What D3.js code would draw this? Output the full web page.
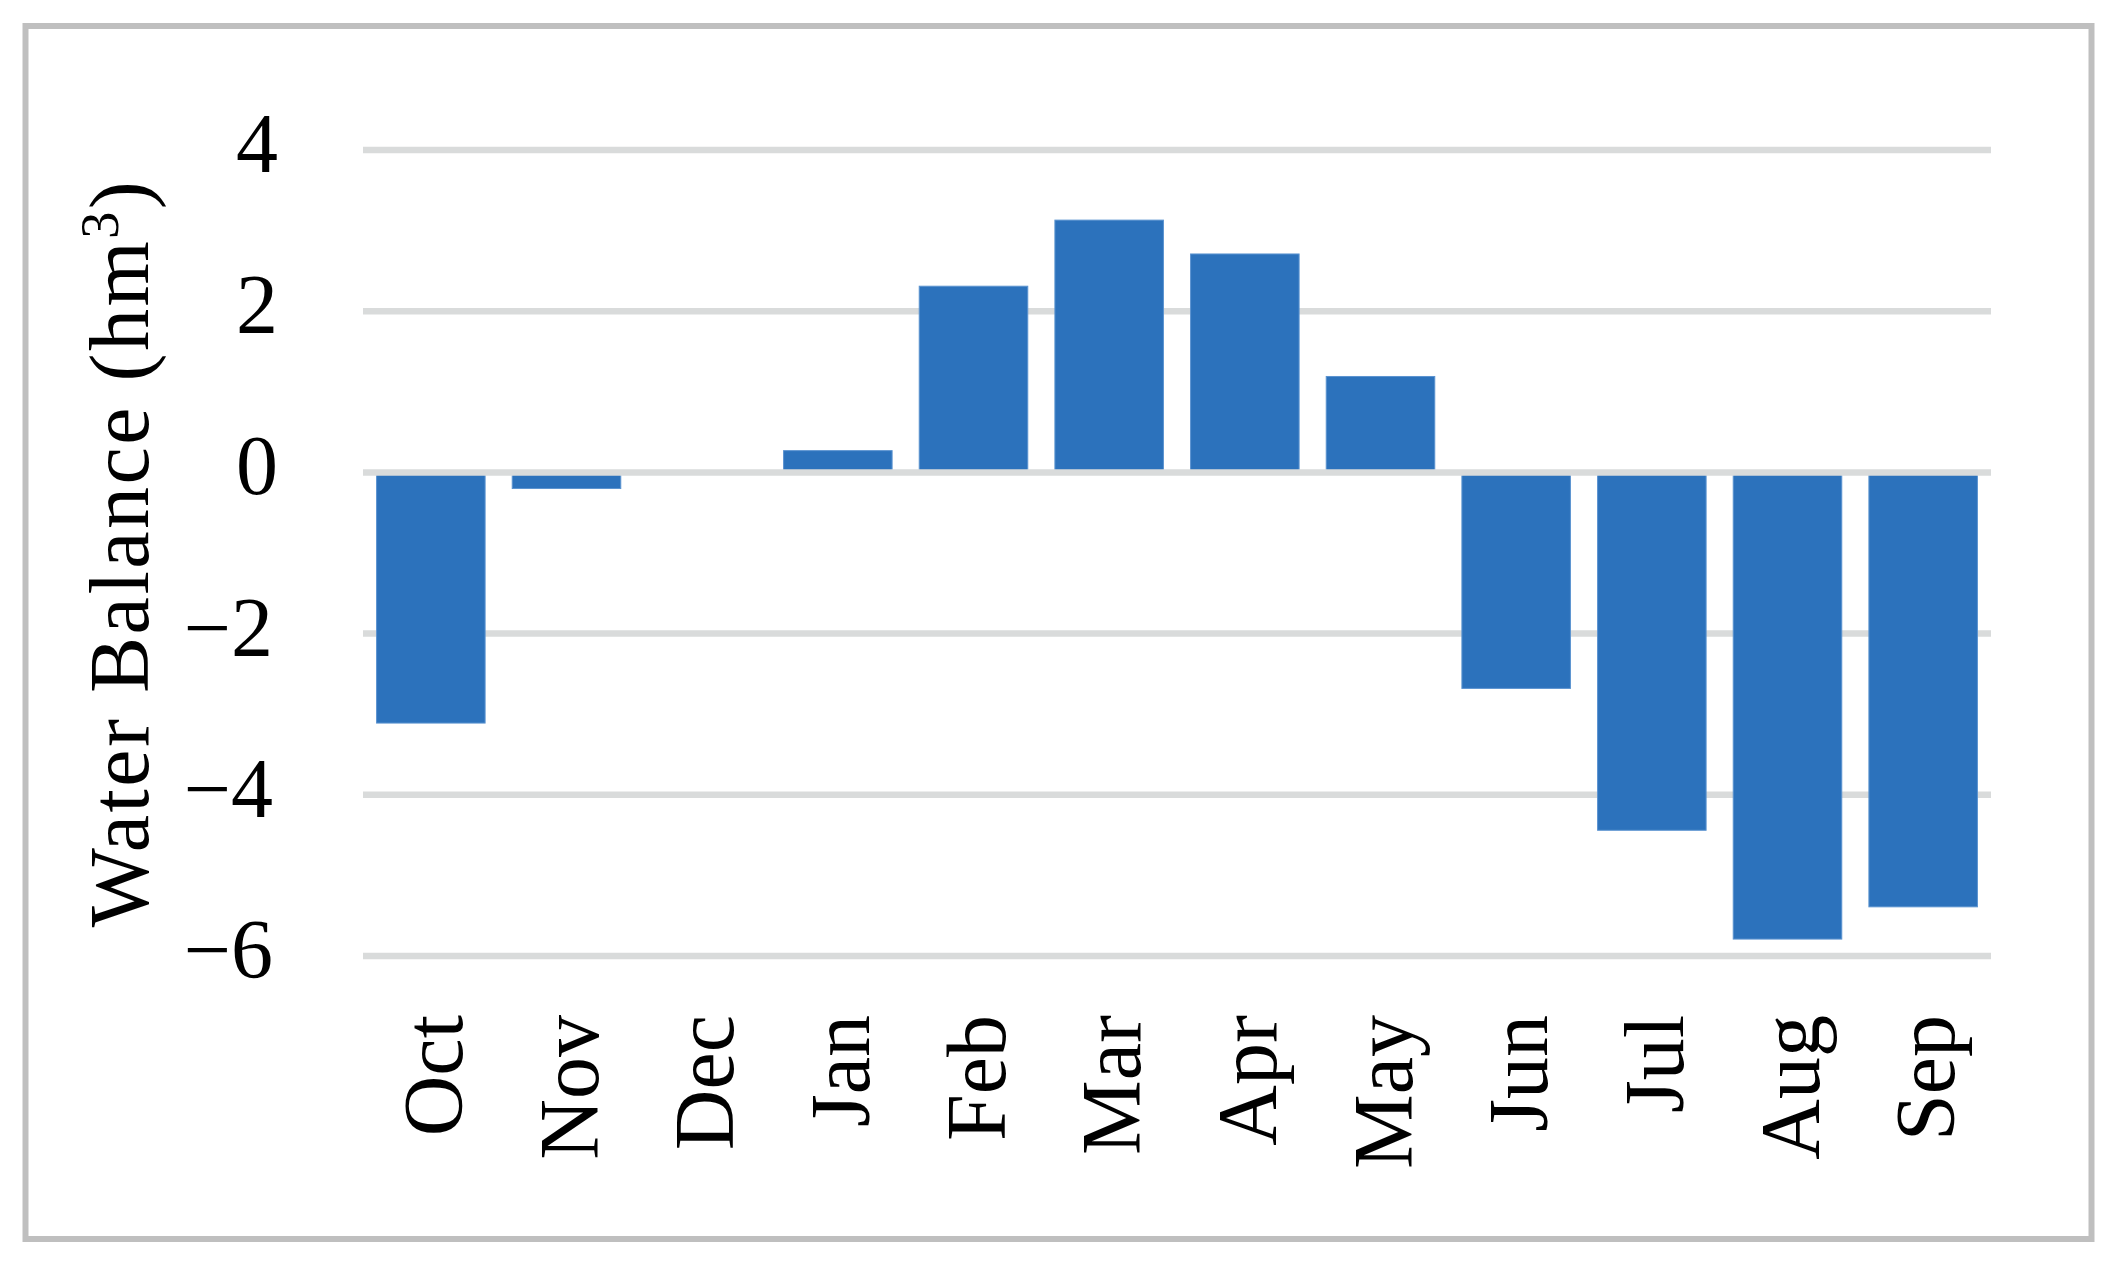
<!DOCTYPE html>
<html>
<head>
<meta charset="utf-8">
<script src="https://cdn.jsdelivr.net/npm/d3@7"></script>
<style>
  html, body { margin: 0; padding: 0; background: #ffffff; }
  svg { display: block; }
  text { font-family: "Liberation Serif", "DejaVu Serif", serif; fill: #000; }
</style>
</head>
<body>
<svg id="chart" width="2115" height="1264"></svg>
<script>
const months = ["Oct", "Nov", "Dec", "Jan", "Feb", "Mar", "Apr", "May", "Jun", "Jul", "Aug", "Sep"];
const balance = [-3.11, -0.2, 0, 0.27, 2.31, 3.13, 2.71, 1.19, -2.68, -4.44, -5.79, -5.39];
const yTicks = [4, 2, 0, -2, -4, -6];
const yTickLabels = ["4", "2", "0", "\u22122", "\u22124", "\u22126"];
const yTitle = "Water Balance (hm";
const yTitleSup = "3";

const svg = d3.select("#chart");
const W = 2115, H = 1264;
svg.append("rect").attr("width", W).attr("height", H).attr("fill", "#fff");

// outer frame
svg.append("rect")
  .attr("x", 25.5).attr("y", 26)
  .attr("width", 2091.5 - 25.5).attr("height", 1239 - 26)
  .attr("fill", "none").attr("stroke", "#bfbfbf").attr("stroke-width", 6);

const plot = { left: 363, right: 1991, top: 150, bottom: 956 };

const x = d3.scaleBand().domain(months)
  .range([plot.left, plot.right])
  .paddingInner(0.2).paddingOuter(0.1);
const y = d3.scaleLinear().domain([-6, 4]).range([plot.bottom, plot.top]);

// gridlines
const grid = svg.append("g");
grid.selectAll("line").data(yTicks.filter(d => d !== 0)).join("line")
  .attr("x1", plot.left).attr("x2", plot.right)
  .attr("y1", d => y(d)).attr("y2", d => y(d))
  .attr("stroke", "#d9dbdb").attr("stroke-width", 6.5);

// bars
svg.append("g").selectAll("rect").data(months.map((m, i) => ({ m, v: balance[i] })).filter(d => d.v !== 0)).join("rect")
  .attr("x", d => x(d.m))
  .attr("width", x.bandwidth())
  .attr("y", d => y(Math.max(0, d.v)))
  .attr("height", d => Math.abs(y(d.v) - y(0)))
  .attr("fill", "#2c72bc")
  .attr("stroke", "#5b93d0").attr("stroke-width", 1);

// zero line on top
svg.append("line")
  .attr("x1", plot.left).attr("x2", plot.right)
  .attr("y1", y(0)).attr("y2", y(0))
  .attr("stroke", "#d9dbdb").attr("stroke-width", 6.5);

// y tick labels
svg.append("g").selectAll("text").data(yTicks).join("text")
  .attr("x", d => d < 0 ? 273 : 278)
  .attr("y", d => y(d) + 22)
  .attr("text-anchor", "end")
  .attr("font-size", 84)
  .text((d, i) => yTickLabels[i]);

// x tick labels (rotated)
svg.append("g").selectAll("text").data(months).join("text")
  .attr("transform", d => `translate(${x(d) + x.bandwidth() / 2},1015) rotate(-90)`)
  .attr("x", 0).attr("y", 31)
  .attr("text-anchor", "end")
  .attr("font-size", 84)
  .text(d => d);

// y axis title
const t = svg.append("text")
  .attr("transform", `translate(148,${(plot.top + plot.bottom) / 2}) rotate(-90)`)
  .attr("text-anchor", "middle")
  .attr("font-size", 84)
  .attr("letter-spacing", 2.5);
t.append("tspan").text(yTitle);
t.append("tspan").attr("font-size", 54).attr("dy", -30).text(yTitleSup);
t.append("tspan").attr("dy", 30).text(")");
</script>
</body>
</html>
